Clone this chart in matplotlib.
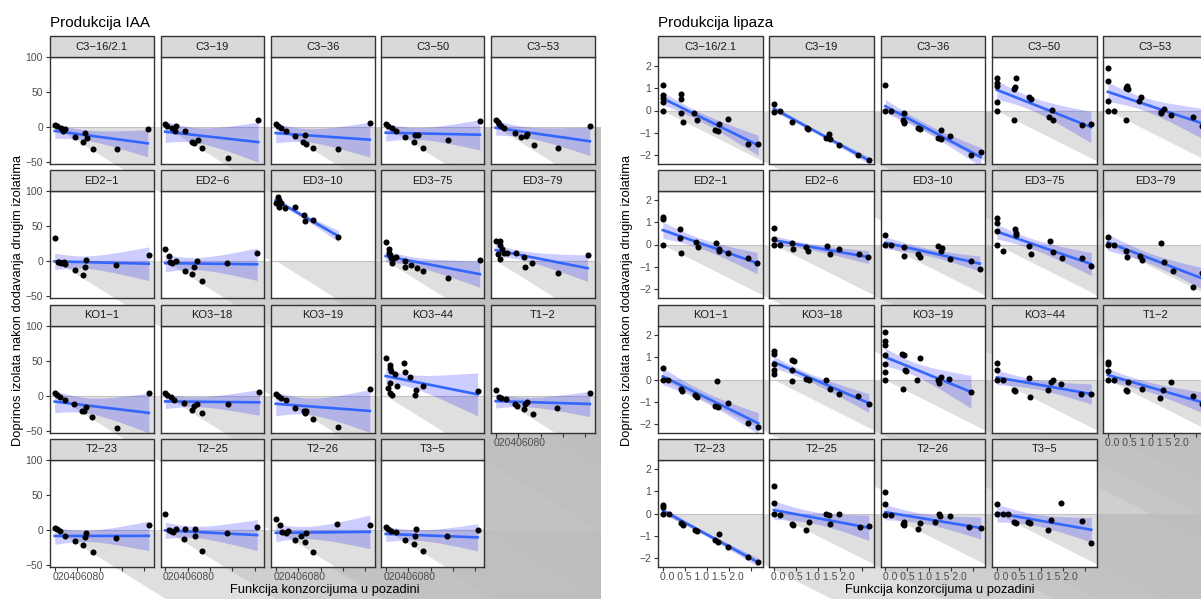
import numpy as np
import matplotlib
matplotlib.use("Agg")
import matplotlib.pyplot as plt
from matplotlib.patches import Polygon, Rectangle

plt.rcParams['font.family'] = ['Liberation Sans', 'DejaVu Sans']

# facet names (same order in both halves)
izolati = ["C3-16/2.1", "C3-19", "C3-36", "C3-50", "C3-53",
           "ED2-1", "ED2-6", "ED3-10", "ED3-75", "ED3-79",
           "KO1-1", "KO3-18", "KO3-19", "KO3-44", "T1-2",
           "T2-23", "T2-25", "T2-26", "T3-5"]

# Produkcija IAA: x = funkcija konzorcijuma, y = doprinos izolata
iaa_x = [
    [0, 2, 6, 9, 7, 18, 25, 27, 29, 34, 56, 83],
    [0, 2, 6, 10, 9, 18, 24, 26, 29, 33, 56, 83],
    [0, 2, 5, 9, 17, 26, 24, 27, 33, 56, 84],
    [0, 2, 6, 9, 17, 25, 26, 29, 33, 56, 84],
    [0, 2, 3, 5, 7, 17, 23, 27, 28, 34, 56, 84],
    [0, 3, 4, 6, 8, 9, 18, 25, 27, 28, 55, 84],
    [0, 3, 4, 6, 10, 18, 24, 26, 28, 33, 55, 82],
    [0, 2, 3, 3, 5, 8, 17, 25, 26, 33, 56],
    [0, 3, 3, 4, 5, 6, 7, 9, 17, 17, 23, 28, 33, 56, 84],
    [0, 4, 4, 6, 2, 4, 7, 10, 18, 25, 26, 32, 56, 82],
    [0, 2, 5, 9, 17, 24, 26, 28, 33, 56, 84],
    [0, 2, 5, 8, 17, 24, 26, 28, 33, 56, 84],
    [0, 2, 5, 9, 17, 25, 26, 27, 33, 56, 84],
    [0, 4, 4, 5, 4, 2, 4, 6, 8, 10, 16, 17, 22, 27, 26, 33, 82],
    [0, 3, 5, 9, 17, 19, 25, 26, 28, 33, 55, 84],
    [0, 2, 5, 9, 18, 25, 28, 27, 34, 55, 84],
    [0, 3, 5, 7, 10, 17, 18, 27, 27, 33, 55, 82],
    [0, 4, 6, 9, 11, 17, 23, 26, 27, 33, 55, 84],
    [0, 2, 5, 9, 17, 25, 26, 27, 33, 55, 82],
]
iaa_y = [
    [3, 1, -1, -3, -5, -14, -21, -8, -16, -31, -32, -3],
    [4, 2, -2, 1, -6, -5, -21, -23, -18, -30, -45, 10],
    [4, 2, -2, -5, -13, -12, -21, -25, -30, -31, 6],
    [5, 1, -2, -5, -14, -21, -11, -11, -30, -19, 8],
    [10, 7, 4, 1, -1, -8, -14, -13, -10, -26, -30, 2],
    [33, -1, -2, -3, -2, -4, -13, -20, -8, 2, -6, 8],
    [17, 7, -1, -3, 0, -14, -19, -8, 0, -29, -3, 11],
    [84, 92, 88, 78, 84, 76, 77, 66, 58, 59, 35],
    [27, 17, 12, 8, 5, -3, 5, 6, 0, -8, -6, -10, -14, -25, 2],
    [29, 29, 23, 17, 10, 3, 12, 12, 11, 6, -8, -3, -17, 8],
    [5, 1, -2, -5, -12, -22, -21, -15, -30, -46, 5],
    [4, 1, -2, -5, -10, -20, -14, -12, -25, -12, 6],
    [3, 0, -3, -5, -17, -21, -25, -22, -33, -44, 10],
    [55, 45, 40, 36, 19, 11, 4, 2, 32, 15, 47, 35, 28, 9, 2, 15, 7],
    [8, -1, -3, -4, -11, -14, -18, -12, -9, -26, -17, 5],
    [3, 1, -2, -8, -15, -22, -4, -10, -31, -12, 7],
    [23, 0, -2, -3, 1, -13, 1, 1, -8, -30, -4, 5],
    [16, 7, -3, -4, -1, -14, -8, -17, -4, -31, 9, 7],
    [4, 1, -2, -3, -14, -20, -8, 2, -30, -8, 0],
]

# Produkcija lipaza
lip_x = [
    [0, 0, 0, 0, 0, 0.42, 0.41, 0.41, 0.45, 0.72, 0.78, 1.18, 1.26, 1.27, 1.48, 1.95, 2.17],
    [0, 0, 0.13, 0.42, 0.75, 0.78, 1.19, 1.26, 1.28, 1.48, 1.91, 2.16],
    [0, 0, 0.13, 0.42, 0.41, 0.42, 0.43, 0.74, 0.78, 1.2, 1.27, 1.27, 1.48, 1.95, 2.17],
    [0, 0, 0, 0, 0, 0.44, 0.4, 0.42, 0.4, 0.73, 0.78, 1.18, 1.26, 1.27, 1.94, 2.14],
    [0, 0, 0, 0, 0.14, 0.42, 0.44, 0.46, 0.41, 0.72, 0.76, 1.2, 1.27, 1.22, 1.45, 1.95, 2.15],
    [0, 0, 0, 0.4, 0.4, 0.42, 0.75, 0.8, 1.2, 1.27, 1.28, 1.48, 1.95, 2.15],
    [0, 0, 0, 0.14, 0.42, 0.43, 0.74, 0.78, 1.2, 1.27, 1.48, 1.95, 2.15],
    [0, 0, 0.14, 0.42, 0.43, 0.74, 0.78, 1.2, 1.27, 1.28, 1.48, 1.95, 2.15],
    [0, 0, 0, 0, 0.14, 0.42, 0.43, 0.44, 0.74, 0.78, 1.2, 1.27, 1.48, 1.95, 2.15],
    [0, 0, 0.14, 0.42, 0.43, 0.74, 0.78, 1.2, 1.27, 1.48, 1.95, 2.15],
    [0, 0, 0.11, 0.42, 0.44, 0.74, 0.78, 1.19, 1.25, 1.24, 1.49, 1.95, 2.17],
    [0, 0, 0, 0, 0, 0.42, 0.47, 0.42, 0.42, 0.73, 0.79, 1.19, 1.27, 1.48, 1.91, 2.16],
    [0, 0, 0, 0, 0, 0, 0, 0.39, 0.42, 0.45, 0.46, 0.41, 0.78, 0.72, 1.2, 1.23, 1.27, 1.46, 1.95],
    [0, 0, 0, 0.13, 0.39, 0.41, 0.73, 0.76, 1.17, 1.23, 1.27, 1.47, 1.91, 2.15],
    [0, 0, 0, 0, 0.14, 0.41, 0.43, 0.45, 0.77, 1.18, 1.26, 1.45, 1.95, 2.15],
    [0, 0, 0, 0.13, 0.42, 0.45, 0.74, 0.78, 1.18, 1.27, 1.26, 1.48, 1.93, 2.17],
    [0, 0, 0, 0.13, 0.42, 0.44, 0.73, 0.79, 1.19, 1.25, 1.28, 1.48, 1.96, 2.16],
    [0, 0, 0, 0.13, 0.41, 0.43, 0.42, 0.74, 0.78, 1.14, 1.23, 1.24, 1.47, 1.9, 2.17],
    [0, 0, 0.13, 0.26, 0.39, 0.43, 0.71, 0.76, 1.17, 1.23, 1.47, 1.93, 2.15],
]
lip_y = [
    [1.16, 0.7, 0.55, 0.37, 0, 0.75, 0.5, -0.1, -0.5, -0.1, -0.45, -0.87, -0.94, -0.6, -0.4, -1.5, -1.5],
    [0.3, -0.05, 0, -0.52, -0.8, -0.83, -1.24, -1.05, -1.31, -1.57, -2.0, -2.24],
    [1.16, 0, 0, -0.12, -0.45, -0.57, -0.5, -0.78, -0.82, -1.24, -0.87, -1.31, -1.15, -2.0, -1.87],
    [1.46, 1.25, 1.12, 0.37, -0.03, 1.46, 0.97, 1.05, -0.45, 0.63, 0.51, -0.3, 0.04, -0.45, -0.67, -0.63],
    [1.94, 1.33, 0.45, -0.03, -0.03, -0.45, 1.12, 0.95, 1.0, 0.45, 0.6, -0.07, 0.07, -0.1, -0.22, -0.3, -0.7],
    [1.25, 1.15, 0, 0.7, 0.3, -0.4, 0.1, -0.1, 0.05, -0.3, -0.2, -0.4, -0.6, -0.85],
    [0.75, 0.25, 0, 0, 0.05, -0.2, -0.1, -0.3, -0.05, -0.45, -0.2, -0.45, -0.55],
    [0.45, 0, 0, -0.1, -0.5, -0.45, -0.55, -0.05, -0.3, -0.15, -0.65, -0.75, -1.1],
    [1.2, 0.95, 0.6, 0, -0.3, 0.7, 0.45, 0.5, -0.05, -0.45, 0.15, -0.35, -0.6, -0.6, -0.95],
    [0.35, 0, 0, -0.3, -0.55, -0.5, -0.7, 0.05, -0.8, -1.2, -1.9, -1.3],
    [0.54, -0.03, -0.03, -0.43, -0.5, -0.72, -0.8, -1.19, -1.25, -0.06, -1.07, -1.97, -2.16],
    [1.27, 1.16, 0.72, 0.42, 0.24, 0.87, 0.82, 0.42, -0.06, 0.04, -0.03, 0, -0.43, -0.64, -0.75, -1.09],
    [2.16, 1.72, 1.55, 1.09, 0.72, 0.34, -0.03, 1.16, 1.1, 0.42, 0.4, -0.43, 0.96, -0.01, 0, -0.16, 0.1, 0.03, -0.55],
    [0.75, 0.43, -0.04, -0.04, -0.46, -0.5, 0.06, -0.79, -0.46, -0.12, -0.04, -0.22, -0.64, -0.64],
    [0.78, 0.7, 0.37, -0.04, -0.04, -0.46, -0.52, -0.12, -0.42, -0.85, -0.46, -0.12, -0.75, -1.1],
    [0.39, 0.3, -0.03, -0.03, -0.43, -0.5, -0.73, -0.81, -1.21, -0.91, -1.28, -1.51, -1.97, -2.19],
    [1.25, 0.46, -0.03, -0.06, -0.46, -0.5, -0.73, -0.39, -0.03, -0.06, -0.46, -0.03, -0.61, -0.55],
    [0.99, 0.42, -0.06, -0.06, -0.46, -0.5, -0.39, -0.72, -0.45, -0.37, -0.01, -0.1, -0.12, -0.6, -0.64],
    [0.45, 0, 0, 0, -0.39, -0.45, -0.39, -0.43, -0.75, -0.31, 0.48, -0.34, -1.33],
]

iaa_xticks = [0, 20, 40, 60, 80]
iaa_yticks = [-50, 0, 50, 100]
lip_xticks = [0, 0.5, 1.0, 1.5, 2.0]
lip_yticks = [-2, -1, 0, 1, 2]

W, H = 1201, 599
STRIP_TOPS = [36, 170, 305, 439]
STRIP_H, PANEL_H = 21, 107
DARK = '#333333'


def t975(df):
    z = 1.959964
    return (z + (z**3 + z) / (4 * df) + (5 * z**5 + 16 * z**3 + 3 * z) / (96 * df**2)
            + (3 * z**7 + 19 * z**5 + 17 * z**3 - 15 * z) / (384 * df**3))


def lm_band(x, y, xs):
    n = len(x)
    b, a = np.polyfit(x, y, 1)
    res = y - (a + b * x)
    s = np.sqrt(np.sum(res**2) / (n - 2))
    se = s * np.sqrt(1 / n + (xs - x.mean())**2 / np.sum((x - x.mean())**2))
    fit = a + b * xs
    t = t975(n - 2)
    return fit, fit - t * se, fit + t * se


def draw_half(fig, xs_all, ys_all, col_left, pw, xlim, ylim, xticks, yticks,
              xtick_text, z):
    for i, name in enumerate(izolati):
        r, c = divmod(i, 5)
        top = STRIP_TOPS[r] + STRIP_H
        ax = fig.add_axes([col_left[c] / W, 1 - (top + PANEL_H) / H, pw / W, PANEL_H / H],
                          zorder=z)
        ax.set_xlim(xlim)
        ax.set_ylim(ylim)
        big = 60 * (xlim[1] - xlim[0])
        # shaded area between 0 and -x (not clipped, like the original)
        ax.add_patch(Polygon([[0, 0], [big, 0], [big, -big]], closed=True,
                             fc='#bebebe', ec='none', alpha=0.48, clip_on=False, zorder=0.5))
        ax.axhline(0, color='#c4c4c4', lw=0.8, zorder=0.6)
        x = np.array(xs_all[i], float)
        y = np.array(ys_all[i], float)
        grid = np.linspace(x.min(), x.max(), 80)
        fit, lo, hi = lm_band(x, y, grid)
        ax.fill_between(grid, lo, hi, color='#0000ff', alpha=0.2, lw=0, zorder=1)
        ax.plot(grid, fit, color='#3366FF', lw=1.9, zorder=2)
        ax.scatter(x, y, s=19, c='black', lw=0, zorder=3)

        for sp in ax.spines.values():
            sp.set_color(DARK)
            sp.set_linewidth(1.0)
            sp.set_zorder(4)

        ax.set_yticks(yticks)
        ax.set_xticks(xticks)
        ax.set_xticklabels([])
        ax.tick_params(axis='y', length=3 if c == 0 else 0, width=0.8, color=DARK,
                       labelsize=7.5, labelcolor='#4d4d4d', pad=2)
        if c != 0:
            ax.set_yticklabels([])
        bottom = i >= 14
        ax.tick_params(axis='x', length=3 if bottom else 0, width=0.8, color=DARK)
        if bottom:
            ax.annotate(xtick_text, xy=(0, 0), xycoords=('data', 'axes fraction'),
                        xytext=(-2.5, -9.7), textcoords='offset pixels',
                        ha='left', va='center', fontsize=7.5, color='#4d4d4d',
                        annotation_clip=False)

        # strip
        sh = STRIP_H / PANEL_H
        ax.add_patch(Rectangle((0, 1), 1, sh, transform=ax.transAxes, fc='#d9d9d9',
                               ec=DARK, lw=1.0, clip_on=False, zorder=5))
        ax.text(0.5, 1 + sh / 2, name.replace('-', '\u2212'), transform=ax.transAxes,
                ha='center', va='center', fontsize=8, color='#1a1a1a', zorder=6)


fig = plt.figure(figsize=(W / 100, H / 100), dpi=100)

draw_half(fig, iaa_x, iaa_y, [50, 160.5, 271, 381, 491], 103.5,
          (-4.2, 88.2), (-53, 100.5), iaa_xticks, iaa_yticks,
          "".join(str(v) for v in iaa_xticks), 0)

# right half sits on its own white background
fig.add_artist(Rectangle((601 / W, 0), 1 - 601 / W, 1, transform=fig.transFigure,
                         fc='white', ec='none', zorder=1))

draw_half(fig, lip_x, lip_y, [658, 769, 880.5, 992, 1103], 104.5,
          (-0.11, 2.27), (-2.42, 2.42), lip_xticks, lip_yticks,
          " ".join(f"{v:.1f}" for v in lip_xticks), 2)

ylab = "Doprinos izolata nakon dodavanja drugim izolatima"
xlab = "Funkcija konzorcijuma u pozadini"
fig.text(50 / W, 1 - 27 / H, "Produkcija IAA", fontsize=11, va='baseline', zorder=3)
fig.text(658 / W, 1 - 27 / H, "Produkcija lipaza", fontsize=11, va='baseline', zorder=3)
fig.text(18 / W, 1 - 301 / H, ylab, rotation=90, ha='center', va='center', fontsize=9.3, zorder=3)
fig.text(627 / W, 1 - 301 / H, ylab, rotation=90, ha='center', va='center', fontsize=9.3, zorder=3)
fig.text(325 / W, 1 - 590 / H, xlab, ha='center', va='center', fontsize=9.3, zorder=3)
fig.text(940 / W, 1 - 590 / H, xlab, ha='center', va='center', fontsize=9.3, zorder=3)

fig.savefig("out.png", dpi=100)
